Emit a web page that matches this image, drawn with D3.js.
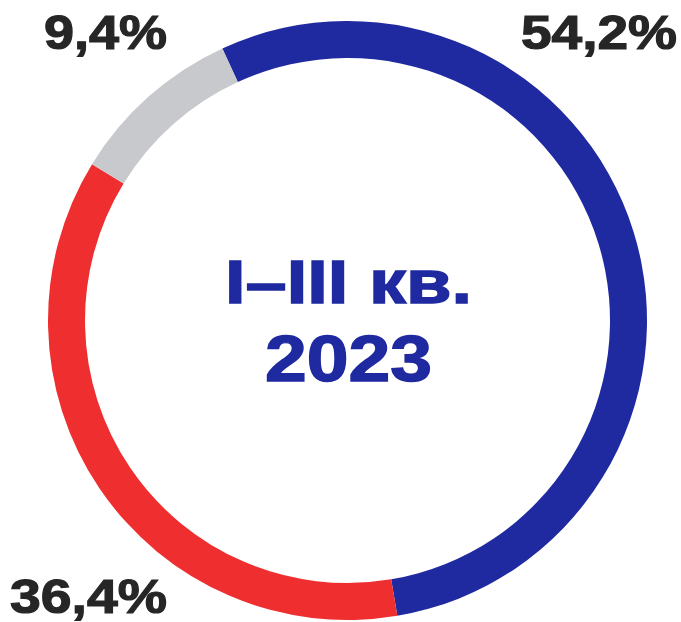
<!DOCTYPE html>
<html>
<head>
<meta charset="utf-8">
<script src="https://cdn.jsdelivr.net/npm/d3@7"></script>
<style>
  html, body { margin: 0; padding: 0; background: #fff; }
  svg { display: block; }
</style>
</head>
<body>
<div id="chart"></div>
<script>
var categories = ["blue", "red", "gray"];
var shares = [54.2, 36.4, 9.4];
var shareLabels = ["54,2%", "36,4%", "9,4%"];
var centerLines = ["I–III кв.", "2023"];

function init(){

    var w = 681;
    var h = 622;
    var cx = 347.5, cy = 320.5;
    var outerR = 299.5, innerR = 262.5;

    var color = d3.scaleOrdinal()
                    .domain(categories)
                    .range(["#1f29a0", "#ee2e2f", "#c8c9cc"]);

    var startA = -24.7 * Math.PI / 180;

    var pie = d3.pie()
                .sort(null)
                .value(function(d){ return d.v; })
                .startAngle(startA)
                .endAngle(startA + 2 * Math.PI);

    var data = categories.map(function(c, i){
        return { k: c, v: shares[i], label: shareLabels[i] };
    });

    var arc = d3.arc()
                .innerRadius(innerR)
                .outerRadius(outerR);

    var svg = d3.select("#chart")
                .append("svg")
                .attr("width", w)
                .attr("height", h);

    var g = svg.append("g")
                .attr("transform", "translate(" + cx + "," + cy + ")");

    g.selectAll("path")
        .data(pie(data))
        .enter()
        .append("path")
            .attr("d", arc)
            .attr("fill", function(d){ return color(d.data.k); });

    // labels sit in the corners next to their segment
    var labelPos = [
        { x: 677, y: 49, anchor: "end", len: 156 },
        { x: 10, y: 613, anchor: "start", len: 157 },
        { x: 44, y: 49, anchor: "start", len: 123 }
    ];

    svg.selectAll("text.lbl")
        .data(data)
        .enter()
        .append("text")
            .attr("class", "lbl")
            .attr("x", function(d, i){ return labelPos[i].x; })
            .attr("y", function(d, i){ return labelPos[i].y; })
            .attr("text-anchor", function(d, i){ return labelPos[i].anchor; })
            .attr("textLength", function(d, i){ return labelPos[i].len; })
            .attr("lengthAdjust", "spacingAndGlyphs")
            .attr("font-family", "'Liberation Sans', Arial, sans-serif")
            .attr("font-weight", "bold")
            .attr("font-size", 49)
            .attr("fill", "#262626")
            .attr("stroke", "#262626")
            .attr("stroke-width", 1.2)
            .text(function(d){ return d.label; });

    // centre title
    var centerPos = [
        { y: 303, len: 247, size: 62 },
        { y: 381, len: 167, size: 65 }
    ];

    svg.selectAll("text.ctr")
        .data(centerLines)
        .enter()
        .append("text")
            .attr("class", "ctr")
            .attr("x", cx + 1)
            .attr("y", function(d, i){ return centerPos[i].y; })
            .attr("text-anchor", "middle")
            .attr("textLength", function(d, i){ return centerPos[i].len; })
            .attr("lengthAdjust", "spacingAndGlyphs")
            .attr("font-family", "'Liberation Sans', Arial, sans-serif")
            .attr("font-weight", "bold")
            .attr("font-size", function(d, i){ return centerPos[i].size; })
            .attr("fill", "#1f29a0")
            .attr("stroke", "#1f29a0")
            .attr("stroke-width", 1.4)
            .text(function(d){ return d; });
}
window.onload = init;
</script>
</body>
</html>
